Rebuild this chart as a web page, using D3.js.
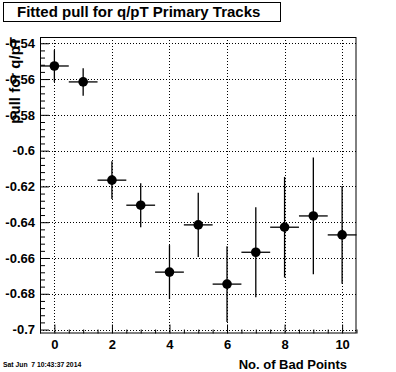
<!DOCTYPE html>
<html>
<head>
<meta charset="utf-8">
<script src="https://cdn.jsdelivr.net/npm/d3@7"></script>
<style>
  body { margin: 0; background: #fff; }
  text { font-family: "Liberation Sans", Arial, sans-serif; font-weight: bold; fill: #000; }
</style>
</head>
<body>
<div id="chart"></div>
<script>
// bins (number of bad points), fitted pull and its error
var badPoints = [0, 1, 2, 3, 4, 5, 6, 7, 8, 9, 10];
var pullValues = [-0.5527, -0.5616, -0.6165, -0.6305, -0.6679, -0.6415, -0.6746, -0.6568, -0.6428, -0.6365, -0.6471];
var pullErrors = [0.0089, 0.0077, 0.0105, 0.0123, 0.0151, 0.0179, 0.0212, 0.0251, 0.0281, 0.0326, 0.0273];
var yTicks = [-0.7, -0.68, -0.66, -0.64, -0.62, -0.6, -0.58, -0.56, -0.54];
var xTicks = [0, 2, 4, 6, 8, 10];

var W = 396, H = 372;
var frame = {left: 40, right: 356.5, top: 37, bottom: 333.5};

var svg = d3.select("#chart").append("svg")
    .attr("width", W)
    .attr("height", H);

svg.append("rect")
    .attr("width", W).attr("height", H)
    .style("fill", "#fff");

var x = d3.scaleLinear().domain([-0.5, 10.5]).range([frame.left, frame.right]);
var y = d3.scaleLinear().domain([-0.7022, -0.5365]).range([frame.bottom, frame.top]);

// grid
var grid = svg.append("g").attr("class", "grid");
grid.selectAll("line.gx")
    .data(xTicks).enter()
  .append("line")
    .attr("x1", d => Math.round(x(d)) + 0.5)
    .attr("x2", d => Math.round(x(d)) + 0.5)
    .attr("y1", frame.top)
    .attr("y2", frame.bottom)
    .style("stroke", "#000")
    .style("stroke-dasharray", "1,2");
grid.selectAll("line.gy")
    .data(yTicks).enter()
  .append("line")
    .attr("x1", frame.left)
    .attr("x2", frame.right)
    .attr("y1", d => Math.round(y(d)) + 0.5)
    .attr("y2", d => Math.round(y(d)) + 0.5)
    .style("stroke", "#000")
    .style("stroke-dasharray", "1,2");

// axes with ticks pointing into the frame
var yAxis = d3.axisLeft(y).tickValues(yTicks).tickSize(-9).tickPadding(14)
    .tickFormat(d => String(+d.toFixed(2)));
var gy = svg.append("g")
    .attr("transform", "translate(" + frame.left + ",0)")
    .call(yAxis);
var yMinor = d3.range(-0.7, -0.5365, 0.004).filter(v => Math.abs(Math.round(v / 0.02) * 0.02 - v) > 1e-6);
svg.append("g")
    .attr("transform", "translate(" + frame.left + ",0)")
    .call(d3.axisLeft(y).tickValues(yMinor).tickSize(-5).tickFormat(""))
    .select(".domain").remove();

var xAxis = d3.axisBottom(x).tickValues(xTicks).tickSize(-9).tickPadding(14);
var gx = svg.append("g")
    .attr("transform", "translate(0," + frame.bottom + ")")
    .call(xAxis);
var xMinor = d3.range(-0.5, 10.51, 0.5).filter(v => v % 2 !== 0);
svg.append("g")
    .attr("transform", "translate(0," + frame.bottom + ")")
    .call(d3.axisBottom(x).tickValues(xMinor).tickSize(-4).tickFormat(""))
    .select(".domain").remove();

svg.selectAll(".domain").remove();
svg.selectAll(".tick line").style("stroke", "#000");
gy.selectAll("text").style("font-size", "13px").attr("x", -5);
gx.selectAll("text").style("font-size", "13px").attr("y", 6);

// frame
svg.append("rect")
    .attr("x", frame.left + 0.5)
    .attr("y", frame.top + 0.5)
    .attr("width", frame.right - frame.left - 1)
    .attr("height", frame.bottom - frame.top - 1)
    .style("fill", "none")
    .style("stroke", "#000");

// error bars and markers
var pts = badPoints.map((b, i) => ({x: b, v: pullValues[i], e: pullErrors[i]}));
var marks = svg.append("g").attr("class", "points");
marks.selectAll("line.ex")
    .data(pts).enter()
  .append("line")
    .attr("x1", d => Math.max(frame.left, x(d.x - 0.5)))
    .attr("x2", d => Math.min(frame.right, x(d.x + 0.5)))
    .attr("y1", d => y(d.v))
    .attr("y2", d => y(d.v))
    .style("stroke", "#000")
    .style("stroke-width", 1.3);
marks.selectAll("line.ey")
    .data(pts).enter()
  .append("line")
    .attr("x1", d => x(d.x))
    .attr("x2", d => x(d.x))
    .attr("y1", d => y(d.v - d.e))
    .attr("y2", d => y(d.v + d.e))
    .style("stroke", "#000")
    .style("stroke-width", 1.3);
marks.selectAll("circle")
    .data(pts).enter()
  .append("circle")
    .attr("cx", d => x(d.x))
    .attr("cy", d => y(d.v))
    .attr("r", 4.8)
    .style("fill", "#000");

// title box
svg.append("rect")
    .attr("x", 3.5).attr("y", 2.5)
    .attr("width", 277).attr("height", 19)
    .style("fill", "#fff")
    .style("stroke", "#000");
svg.append("text")
    .attr("x", 17).attr("y", 16.5)
    .style("font-size", "15px")
    .text("Fitted pull for q/pT Primary Tracks");

// axis titles
svg.append("text")
    .attr("x", 347).attr("y", 369)
    .style("font-size", "13px")
    .style("text-anchor", "end")
    .text("No. of Bad Points");
svg.append("text")
    .attr("transform", "translate(20," + frame.top + ") rotate(-90)")
    .style("font-size", "15px")
    .style("text-anchor", "end")
    .text("pull for q/pT");

// date stamp
svg.append("text")
    .attr("x", 3).attr("y", 367)
    .style("font-size", "6.8px")
    .style("white-space", "pre")
    .text("Sat Jun  7 10:43:37 2014");
</script>
</body>
</html>
